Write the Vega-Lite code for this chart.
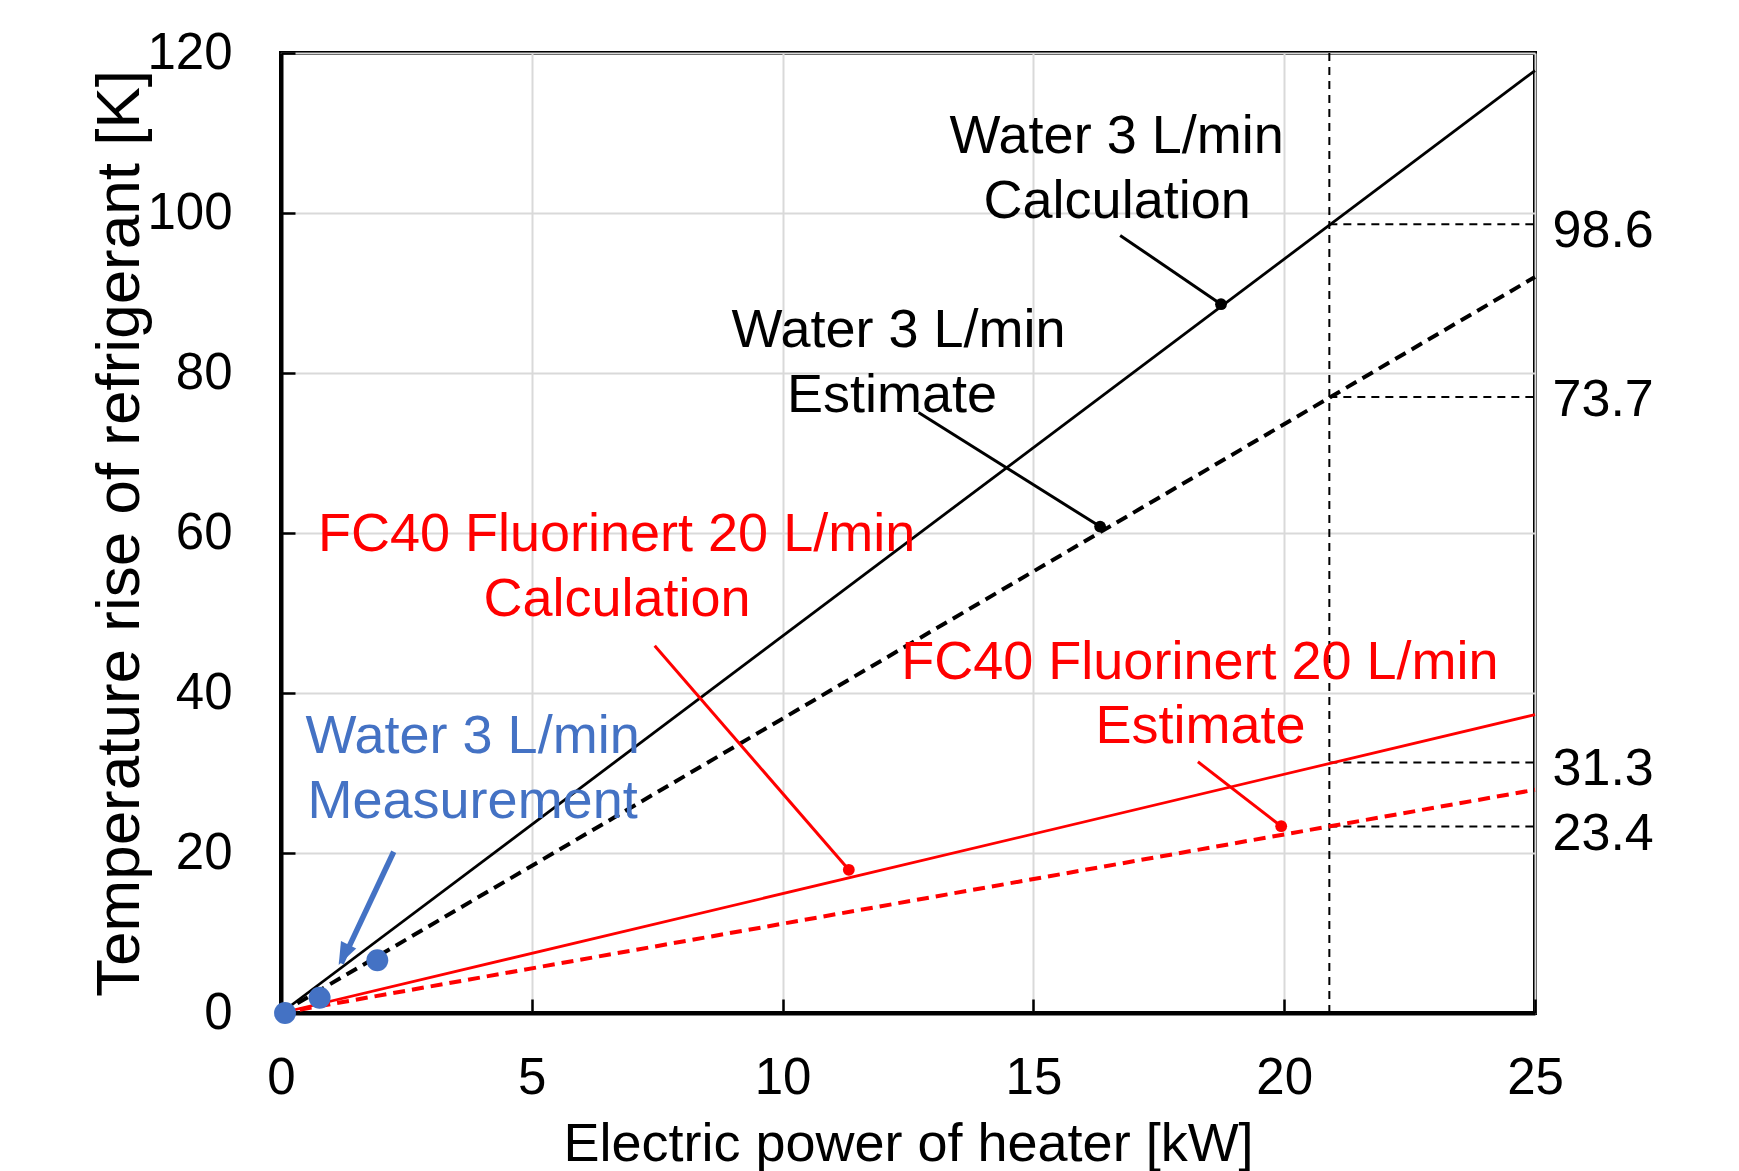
{
  "$schema": "https://vega.github.io/schema/vega-lite/v6.json",
  "width": 1254,
  "height": 960,
  "autosize": {"type": "none"},
  "padding": {"left": 281, "top": 53, "right": 204, "bottom": 158},
  "background": "white",
  "config": {
    "font": "Liberation Sans",
    "view": {"stroke": "black", "strokeWidth": 4},
    "axis": {
      "domainColor": "black",
      "domainWidth": 4,
      "tickColor": "black",
      "tickWidth": 2.5,
      "tickSize": -14,
      "labelFont": "Liberation Sans",
      "labelFontSize": 51,
      "labelColor": "black",
      "labelFlush": false,
      "labelOverlap": false,
      "titleFont": "Liberation Sans",
      "titleFontWeight": "normal",
      "titleColor": "black",
      "gridColor": "#d9d9d9",
      "gridWidth": 2
    }
  },
  "datasets": {
    "lines": [
      {"fluid": "Water", "kind": "Calculation", "x": 0, "y": 0},
      {"fluid": "Water", "kind": "Calculation", "x": 25, "y": 117.8},
      {"fluid": "Water", "kind": "Estimate", "x": 0, "y": 0},
      {"fluid": "Water", "kind": "Estimate", "x": 25, "y": 92},
      {"fluid": "FC40", "kind": "Calculation", "x": 0, "y": 0},
      {"fluid": "FC40", "kind": "Calculation", "x": 25, "y": 37.3},
      {"fluid": "FC40", "kind": "Estimate", "x": 0, "y": 0},
      {"fluid": "FC40", "kind": "Estimate", "x": 25, "y": 27.9}
    ],
    "measurement": [
      {"x": 0.08, "y": 0},
      {"x": 0.77, "y": 1.9},
      {"x": 1.92, "y": 6.6}
    ],
    "refV": [{"x": 20.9, "y": 0, "y2": 120}],
    "refH": [
      {"x": 20.9, "x2": 25, "y": 98.6},
      {"x": 20.9, "x2": 25, "y": 77},
      {"x": 20.9, "x2": 25, "y": 31.3},
      {"x": 20.9, "x2": 25, "y": 23.3}
    ],
    "rightLabels": [
      {"label": "98.6", "x": 25.35, "y": 97.7},
      {"label": "73.7", "x": 25.35, "y": 76.6},
      {"label": "31.3", "x": 25.35, "y": 30.5},
      {"label": "23.4", "x": 25.35, "y": 22.4}
    ],
    "leaders": [
      {"id": "wc", "fluid": "Water", "x": 16.73, "y": 97.2},
      {"id": "wc", "fluid": "Water", "x": 18.74, "y": 88.6},
      {"id": "we", "fluid": "Water", "x": 12.71, "y": 75.05},
      {"id": "we", "fluid": "Water", "x": 16.33, "y": 60.8},
      {"id": "fc", "fluid": "FC40", "x": 7.45, "y": 45.9},
      {"id": "fc", "fluid": "FC40", "x": 11.32, "y": 17.9},
      {"id": "fe", "fluid": "FC40", "x": 18.28, "y": 31.4},
      {"id": "fe", "fluid": "FC40", "x": 19.94, "y": 23.35}
    ],
    "dots": [
      {"fluid": "Water", "x": 18.74, "y": 88.6},
      {"fluid": "Water", "x": 16.33, "y": 60.8},
      {"fluid": "FC40", "x": 11.32, "y": 17.9},
      {"fluid": "FC40", "x": 19.94, "y": 23.35}
    ],
    "arrow": [
      {"x": 2.247, "y": 20.16},
      {"x": 1.2, "y": 6.2}
    ],
    "arrowHead": [{"x": 1.15, "y": 6.0}],
    "notes": [
      {"fluid": "Water", "text": "Water 3 L/min", "x": 16.66, "y": 109.45},
      {"fluid": "Water", "text": "Calculation", "x": 16.67, "y": 101.4},
      {"fluid": "Water", "text": "Water 3 L/min", "x": 12.31, "y": 85.2},
      {"fluid": "Water", "text": "Estimate", "x": 12.18, "y": 77.15},
      {"fluid": "FC40", "text": "FC40 Fluorinert 20 L/min", "x": 6.69, "y": 59.7},
      {"fluid": "FC40", "text": "Calculation", "x": 6.7, "y": 51.65},
      {"fluid": "FC40", "text": "FC40 Fluorinert 20 L/min", "x": 18.32, "y": 43.7},
      {"fluid": "FC40", "text": "Estimate", "x": 18.33, "y": 35.8},
      {"fluid": "Measurement", "text": "Water 3 L/min", "x": 3.82, "y": 34.45},
      {"fluid": "Measurement", "text": "Measurement", "x": 3.82, "y": 26.4}
    ]
  },
  "encoding": {
    "x": {
      "field": "x",
      "type": "quantitative",
      "scale": {"domain": [0, 25], "nice": false, "zero": false},
      "axis": {
        "values": [0, 5, 10, 15, 20, 25],
        "title": "Electric power of heater [kW]",
        "titleFontSize": 54,
        "labelPadding": 54,
        "titlePadding": 14
      }
    },
    "y": {
      "field": "y",
      "type": "quantitative",
      "scale": {"domain": [0, 120], "nice": false, "zero": false},
      "axis": {
        "values": [0, 20, 40, 60, 80, 100, 120],
        "title": "Temperature rise of refrigerant [K]",
        "titleFontSize": 62,
        "labelPadding": 63,
        "titlePadding": -5
      }
    }
  },
  "layer": [
    {
      "data": {"name": "refV"},
      "mark": {"type": "rule", "color": "black", "strokeWidth": 2, "strokeDash": [8, 6]},
      "encoding": {"y2": {"field": "y2"}}
    },
    {
      "data": {"name": "refH"},
      "mark": {"type": "rule", "color": "black", "strokeWidth": 2, "strokeDash": [8, 6]},
      "encoding": {"x2": {"field": "x2"}}
    },
    {
      "data": {"name": "lines"},
      "transform": [{"filter": "datum.kind === 'Calculation'"}],
      "mark": {"type": "line", "strokeWidth": 2.8},
      "encoding": {
        "detail": {"field": "fluid"},
        "color": {
          "field": "fluid",
          "type": "nominal",
          "scale": {"domain": ["Water", "FC40", "Measurement"], "range": ["#000000", "#ff0000", "#4472c4"]},
          "legend": null
        }
      }
    },
    {
      "data": {"name": "lines"},
      "transform": [{"filter": "datum.kind === 'Estimate'"}],
      "mark": {"type": "line", "strokeWidth": 4, "strokeDash": [12, 7]},
      "encoding": {
        "detail": {"field": "fluid"},
        "color": {"field": "fluid", "type": "nominal", "legend": null}
      }
    },
    {
      "data": {"name": "leaders"},
      "mark": {"type": "line", "strokeWidth": 3},
      "encoding": {
        "detail": {"field": "id"},
        "color": {"field": "fluid", "type": "nominal", "legend": null}
      }
    },
    {
      "data": {"name": "dots"},
      "mark": {"type": "point", "filled": true, "opacity": 1, "size": 140},
      "encoding": {
        "color": {"field": "fluid", "type": "nominal", "legend": null}
      }
    },
    {
      "data": {"name": "measurement"},
      "mark": {"type": "point", "filled": true, "opacity": 1, "size": 480, "color": "#4472c4"},
      "encoding": {}
    },
    {
      "data": {"name": "arrow"},
      "mark": {"type": "line", "strokeWidth": 5.5, "color": "#4472c4"},
      "encoding": {}
    },
    {
      "data": {"name": "arrowHead"},
      "mark": {"type": "point", "filled": true, "opacity": 1, "size": 800, "color": "#4472c4", "shape": "M0,0 L-0.6,-1.6 L0.6,-1.6 Z", "angle": 26},
      "encoding": {}
    },
    {
      "data": {"name": "notes"},
      "mark": {"type": "text", "fontSize": 54, "align": "center", "baseline": "middle", "font": "Liberation Sans"},
      "encoding": {
        "text": {"field": "text"},
        "color": {"field": "fluid", "type": "nominal", "legend": null}
      }
    },
    {
      "data": {"name": "rightLabels"},
      "mark": {"type": "text", "fontSize": 52, "align": "left", "baseline": "middle", "color": "black", "font": "Liberation Sans"},
      "encoding": {"text": {"field": "label"}}
    }
  ]
}
